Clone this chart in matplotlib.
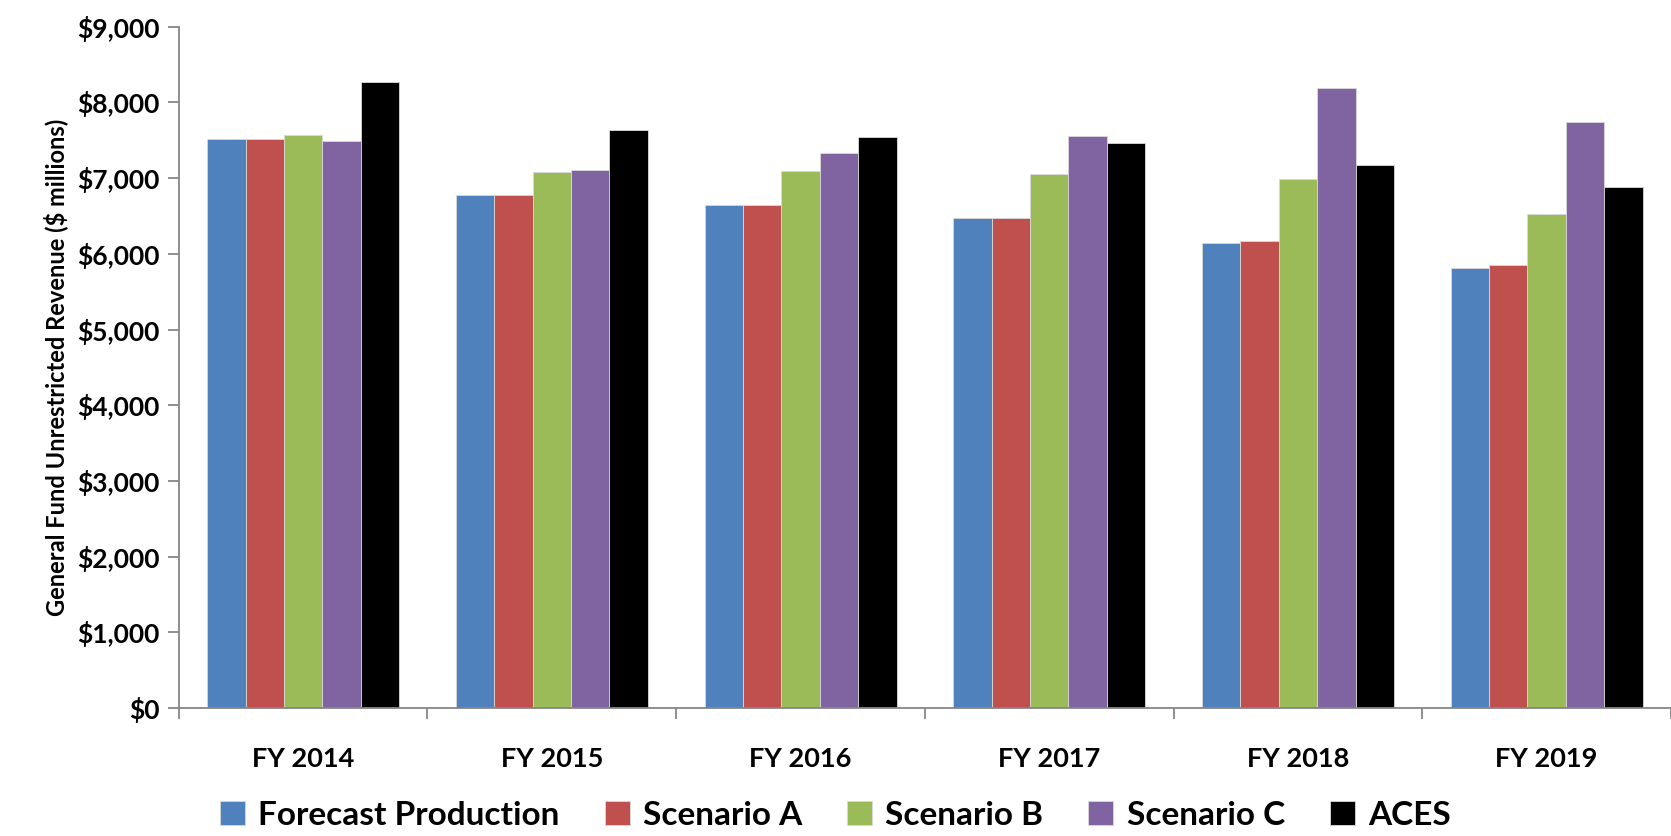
import numpy as np
import matplotlib
matplotlib.use('Agg')
import matplotlib.pyplot as plt
from matplotlib.ticker import FuncFormatter

# Datos
anios = ['FY 2014', 'FY 2015', 'FY 2016', 'FY 2017', 'FY 2018', 'FY 2019']
series = ['Forecast Production', 'Scenario A', 'Scenario B', 'Scenario C', 'ACES']
forecast = [7520, 6780, 6650, 6470, 6145, 5815]
escenario_a = [7520, 6780, 6650, 6480, 6170, 5855]
escenario_b = [7575, 7080, 7100, 7050, 6990, 6525]
escenario_c = [7490, 7110, 7330, 7560, 8190, 7740]
aces = [8270, 7640, 7550, 7465, 7175, 6880]
colores = ['#4F81BD', '#C0504D', '#9BBB59', '#8064A2', '#000000']

plt.rcParams['font.family'] = ['Lato', 'DejaVu Sans']
plt.rcParams['font.weight'] = 'bold'
plt.rcParams['axes.labelweight'] = 'bold'

fig = plt.figure(figsize=(16.71, 8.36), dpi=100)
ax = fig.add_axes([0.107, 0.153, 0.893, 0.815])

x = np.arange(len(anios))
ancho = 0.772 / len(series)
valores = [forecast, escenario_a, escenario_b, escenario_c, aces]
for i, (nombre, vals) in enumerate(zip(series, valores)):
    pos = x - 0.386 + ancho * (i + 0.5)
    ax.bar(pos, vals, width=ancho, color=colores[i], label=nombre,
           edgecolor='#D9D9D9', linewidth=0.6)

ax.set_xlim(-0.5, len(anios) - 0.5)
ax.set_ylim(0, 9000)
ax.set_yticks(np.arange(0, 9001, 1000))
ax.yaxis.set_major_formatter(FuncFormatter(lambda v, p: '${:,.0f}'.format(v)))

ax.set_xticks(x)
ax.set_xticklabels(anios, fontweight='bold')
ax.set_xticks(np.arange(-0.5, len(anios), 1), minor=True)
ax.tick_params(axis='x', which='major', length=0, pad=28, labelsize=19.5)
ax.tick_params(axis='x', which='minor', length=8, width=1.3, color='#868686', direction='out')
ax.tick_params(axis='y', length=8, width=1.3, color='#868686', labelsize=19, pad=6)
for t in ax.get_yticklabels():
    t.set_fontweight('bold')

for s in ['top', 'right']:
    ax.spines[s].set_visible(False)
for s in ['left', 'bottom']:
    ax.spines[s].set_color('#868686')
    ax.spines[s].set_linewidth(1.3)

ax.set_ylabel('General Fund Unrestricted Revenue ($ millions)', fontsize=17,
              fontweight='bold', labelpad=6)

fig.legend(loc='center', bbox_to_anchor=(0.5, 0.025), ncol=5, frameon=False,
           prop={'size': 24, 'weight': 'bold'}, handlelength=0.75, handleheight=0.75,
           handletextpad=0.4, columnspacing=1.35)

plt.savefig('out.png', dpi=100)
